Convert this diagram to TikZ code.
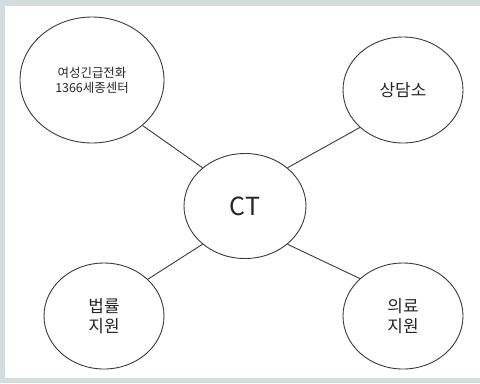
\documentclass[tikz,border=0pt]{standalone}
\usepackage{fontspec}
\setmainfont{Noto Sans CJK KR}
\usetikzlibrary{shapes.geometric}
\definecolor{framegray}{HTML}{D3DCDF}
\definecolor{inkgray}{HTML}{3A3A3A}
\begin{document}
\begin{tikzpicture}[x=1bp,y=-1bp,
    bubble/.style={ellipse,draw=inkgray,line width=0.9bp,inner sep=0pt,align=center,text=black!85},
    link/.style={draw=inkgray,line width=0.9bp}]
            %Frame
            \fill[framegray] (0,0) rectangle (480,383);
            \fill[white] (5,6) rectangle (480,378);

            %Nodes
            \node[bubble,minimum width=122bp,minimum height=105bp,font=\fontsize{25}{28}\selectfont] at (245,206) (ct) {CT};
            \node[bubble,minimum width=144bp,minimum height=126bp,font=\fontsize{12.5}{15}\selectfont] at (92,80) (hotline) {여성긴급전화\\1366세종센터};
            \node[bubble,minimum width=120bp,minimum height=106bp,font=\fontsize{17}{20}\selectfont] at (403,90) (counsel) {상담소};
            \node[bubble,minimum width=120bp,minimum height=106bp,font=\fontsize{17}{20}\selectfont] at (104,316) (legal) {법률\\지원};
            \node[bubble,minimum width=120bp,minimum height=106bp,font=\fontsize{17}{20}\selectfont] at (403,316) (medical) {의료\\지원};

            %Lines
            \draw[link] (ct.138) -- (hotline.-42);
            \draw[link] (ct.42) -- (counsel.-139);
            \draw[link] (ct.-138) -- (legal.40);
            \draw[link] (ct.-42) -- (medical.139);
        \end{tikzpicture}
\end{document}
